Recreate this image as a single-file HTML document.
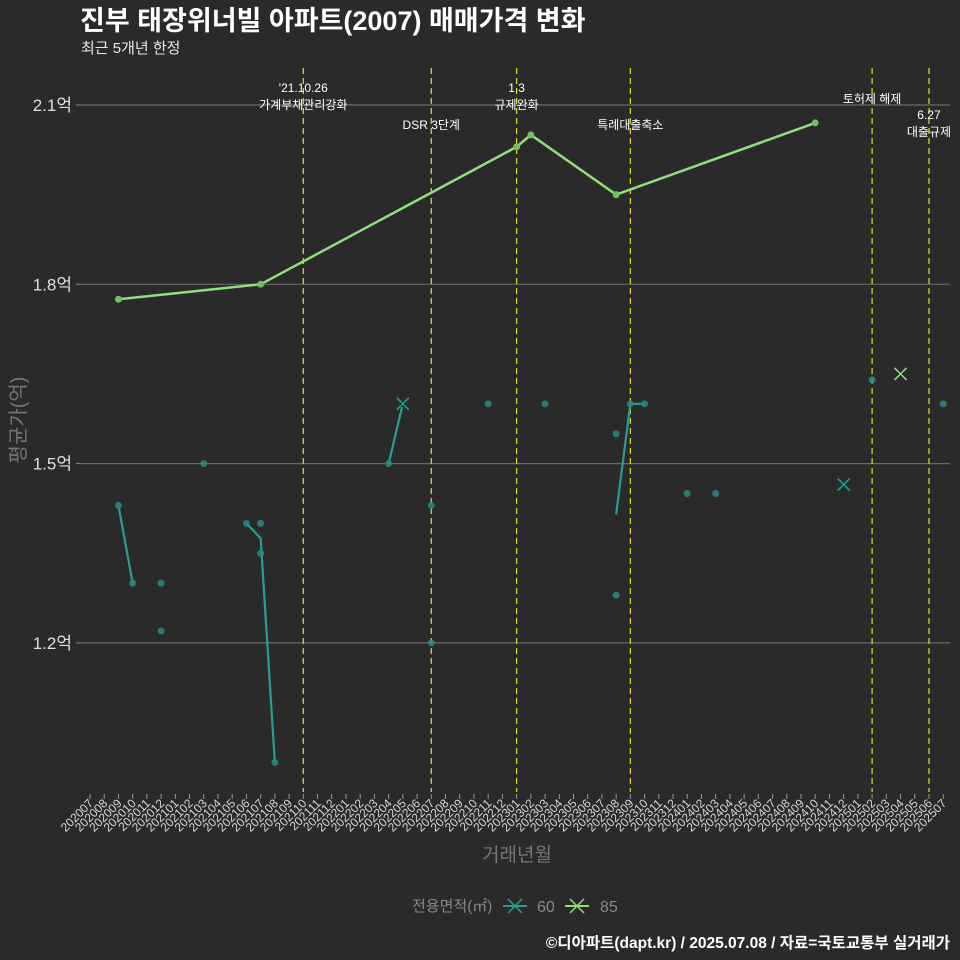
<!DOCTYPE html>
<html><head><meta charset="utf-8"><style>
body{margin:0;background:#2b2a2b;}
svg{display:block;font-family:"Liberation Sans","Noto Sans CJK KR",sans-serif;}
</style></head><body>
<svg id="chart" width="960" height="960" viewBox="0 0 960 960" xmlns="http://www.w3.org/2000/svg">
<rect width="960" height="960" fill="#2b2a2b"/>
<text x="80" y="30" fill="#ffffff" font-size="27" font-weight="bold">진부 태장위너빌 아파트(2007) 매매가격 변화</text>
<text x="81" y="53" fill="#e8e8e8" font-size="15">최근 5개년 한정</text>
<g id="grid"></g><g id="events"></g><g id="series"></g><g id="xaxis"></g><g id="yaxis"></g>
<text transform="translate(25,420) rotate(-90)" text-anchor="middle" fill="#777" font-size="20">평균가(억)</text>
<text x="517" y="861" text-anchor="middle" fill="#777" font-size="19">거래년월</text>
<g>
<text x="412" y="911" fill="#888" font-size="15">전용면적(㎡)</text>
<g><line x1="503" y1="906" x2="527" y2="906" stroke="#2a9d93" stroke-width="2"/><path d="M508 899 L522 913 M522 899 L508 913" stroke="#2a9d93" stroke-width="1.5"/><text x="537" y="912" fill="#888" font-size="16">60</text></g>
<g><line x1="565" y1="906" x2="589" y2="906" stroke="#8fe07d" stroke-width="2"/><path d="M570 899 L584 913 M584 899 L570 913" stroke="#8fe07d" stroke-width="1.5"/><text x="600" y="912" fill="#888" font-size="16">85</text></g>
</g>
<text x="950" y="948" text-anchor="end" fill="#ffffff" font-size="15.5" font-weight="bold">©디아파트(dapt.kr) / 2025.07.08 / 자료=국토교통부 실거래가</text>
</svg>
<script>
const months=[];for(let y=2020;y<=2025;y++)for(let m=1;m<=12;m++){const k=y*100+m;if(k>=202007&&k<=202507)months.push(String(k));}
const yTicks=[1.2,1.5,1.8,2.1];
const yTickLabels=["1.2억","1.5억","1.8억","2.1억"];
const pts60=[["202009",1.43],["202010",1.30],["202012",1.30],["202012",1.22],["202103",1.50],["202106",1.40],["202107",1.40],["202107",1.35],["202108",1.0],["202204",1.50],["202205",1.60],["202207",1.43],["202207",1.20],["202211",1.60],["202303",1.60],["202308",1.55],["202308",1.28],["202309",1.60],["202310",1.60],["202401",1.45],["202403",1.45],["202412",1.465],["202502",1.64],["202507",1.60]];
const line60=[[["202009",1.43],["202010",1.30]],[["202106",1.40],["202107",1.375],["202108",1.0]],[["202204",1.50],["202205",1.60]],[["202308",1.415],["202309",1.60],["202310",1.60]]];
const x60=[["202205",1.60],["202412",1.465]];
const pts85=[["202009",1.775],["202107",1.80],["202301",2.03],["202302",2.05],["202308",1.95],["202410",2.07]];
const x85=[["202504",1.65]];
const eventMonths=["202110","202207","202301","202309","202502","202506"];
const eventLabels=[["'21.10.26","가계부채관리강화"],["DSR 3단계"],["1.3","규제완화"],["특례대출축소"],["토허제 해제"],["6.27","대출규제"]];
const eventLabelY=[[92,109],[129],[92,109],[129],[103],[119,136]];
const NS="http://www.w3.org/2000/svg";
function xs(m){return 90+months.indexOf(m)*14.22;}
function ys(v){return 105+(2.1-v)/0.3*179.3;}
function mk(tag,attrs,parent,txt){const e=document.createElementNS(NS,tag);for(const k in attrs)e.setAttribute(k,attrs[k]);if(txt!==undefined)e.textContent=txt;document.getElementById(parent).appendChild(e);return e;}
yTicks.forEach((v,i)=>{
 const g=mk('line',{x1:80,x2:950,y1:ys(v),y2:ys(v),stroke:'#6a6a6a','stroke-width':1.2},'grid');
 
 
 const t=mk('line',{x1:76,x2:80,y1:ys(v),y2:ys(v),stroke:'#888'},'yaxis');
 
 
 const l=mk('text',{x:72,y:ys(v)+6,'text-anchor':'end',fill:'#e0e0e0','font-size':17},'yaxis',yTickLabels[i]);
 
 
});
months.forEach(m=>{
 const x=xs(m);
 const t=mk('line',{x1:x,x2:x,y1:794,y2:799,stroke:'#999'},'xaxis');
 
 
 const l=mk('text',{transform:`translate(${x+4},${804}) rotate(-45)`,'text-anchor':'end',fill:'#d8d8d8','font-size':12},'xaxis',m);
 
 
});
eventMonths.forEach((m,i)=>{
 const x=xs(m);
 const l=mk('line',{x1:x,x2:x,y1:68,y2:792,stroke:'#e0e020','stroke-width':1.2,'stroke-dasharray':'6,4'},'events');
 
 
 eventLabels[i].forEach((s,j)=>{
  const t=mk('text',{x:x,y:eventLabelY[i][j],'text-anchor':'middle',fill:'#ffffff','font-size':12},'events',s);
  
  
 });
});
line60.forEach(seg=>{
 const p=mk('polyline',{points:seg.map(d=>xs(d[0])+','+ys(d[1])).join(' '),fill:'none',stroke:'#2a9d93','stroke-width':2.2},'series');
 
 
});
pts60.forEach(d=>{
 const c=mk('circle',{cx:xs(d[0]),cy:ys(d[1]),r:3.5,fill:'#2a8a82','fill-opacity':0.85},'series');
 
 
});
const p85=mk('polyline',{points:pts85.map(d=>xs(d[0])+','+ys(d[1])).join(' '),fill:'none',stroke:'#8fe07d','stroke-width':2.5},'series');


pts85.forEach(d=>{
 const c=mk('circle',{cx:xs(d[0]),cy:ys(d[1]),r:3.5,fill:'#6fbf63'},'series');
 
 
});
function cross(d,col,name){
 const x=xs(d[0]),y=ys(d[1]);
 const b=mk('rect',{x:x-3,y:y-3,width:6,height:6,fill:'#111'},'series');
 
 
 const p=mk('path',{d:`M${x-6} ${y-6}L${x+6} ${y+6}M${x+6} ${y-6}L${x-6} ${y+6}`,stroke:col,'stroke-width':1.6},'series');
 
 
}
x60.forEach(d=>cross(d,'#2a9d93','latest-marker-60'));
x85.forEach(d=>cross(d,'#8fe07d','latest-marker-85'));
</script>
</body></html>
